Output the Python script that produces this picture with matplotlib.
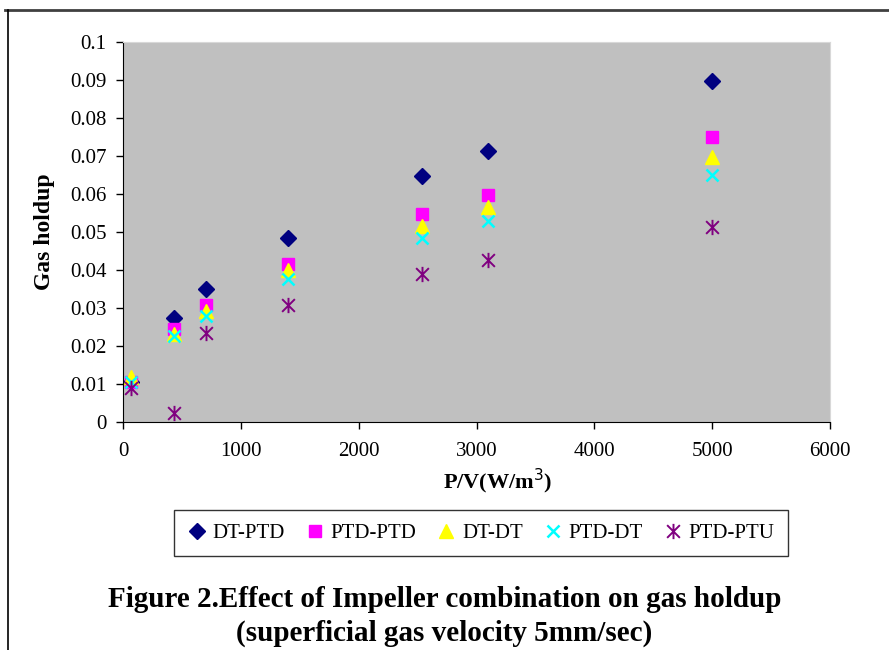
import matplotlib.pyplot as plt
from matplotlib.path import Path
from matplotlib.lines import Line2D

plt.rcParams['font.family'] = ['Liberation Serif', 'DejaVu Serif']

# Datos
pv = [70, 430, 700, 1400, 2540, 3100, 5000]
dt_ptd = [0.0105, 0.0272, 0.0348, 0.0483, 0.0646, 0.0711, 0.0897]
ptd_ptd = [0.0105, 0.0243, 0.0306, 0.0415, 0.0547, 0.0597, 0.0748]
dt_dt = [0.0118, 0.0231, 0.0290, 0.0399, 0.0515, 0.0564, 0.0696]
ptd_dt = [0.0105, 0.0224, 0.0278, 0.0375, 0.0483, 0.0529, 0.0650]
ptd_ptu = [0.0088, 0.0022, 0.0232, 0.0307, 0.0388, 0.0424, 0.0513]

x_ticks = [0, 1000, 2000, 3000, 4000, 5000, 6000]
y_ticks = [0, 0.01, 0.02, 0.03, 0.04, 0.05, 0.06, 0.07, 0.08, 0.09, 0.1]
y_labels = ['0', '0.01', '0.02', '0.03', '0.04', '0.05', '0.06', '0.07', '0.08', '0.09', '0.1']

# marcador tipo asterisco de Excel (x con barra vertical)
star = Path([(-1, -1), (1, 1), (-1, 1), (1, -1), (0, -1.2), (0, 1.2)],
            [Path.MOVETO, Path.LINETO, Path.MOVETO, Path.LINETO, Path.MOVETO, Path.LINETO])

fig = plt.figure(figsize=(8.89, 6.5), dpi=100)
ax = fig.add_axes([0.1384, 0.3515, 0.7953, 0.5846])
ax.set_facecolor('#c0c0c0')

ax.plot(pv, dt_ptd, linestyle='none', marker='D', markersize=8.5, color='#000080', label='DT-PTD')
ax.plot(pv, ptd_ptd, linestyle='none', marker='s', markersize=8.5, color='#ff00ff', label='PTD-PTD')
ax.plot(pv, dt_dt, linestyle='none', marker='^', markersize=9.5, color='#ffff00', label='DT-DT')
ax.plot(pv, ptd_dt, linestyle='none', marker='x', markersize=9, markeredgewidth=1.8,
        color='#00ffff', label='PTD-DT')
ax.plot(pv, ptd_ptu, linestyle='none', marker=star, markersize=11, markeredgewidth=1.4,
        markerfacecolor='none', color='#800080', label='PTD-PTU')

ax.set_xlim(0, 6000)
ax.set_ylim(0, 0.1)
ax.set_xticks(x_ticks)
ax.set_yticks(y_ticks)
ax.set_yticklabels(y_labels)
ax.tick_params(direction='out', length=5, width=1, labelsize=15)
ax.tick_params(axis='x', pad=10)
ax.tick_params(axis='y', pad=7)

for s in ['top', 'right']:
    ax.spines[s].set_color('#d8d8d8')
for s in ['left', 'bottom']:
    ax.spines[s].set_color('black')

ax.set_xlabel('P/V(W/m$^3$)', fontsize=16, fontweight='bold')
ax.xaxis.set_label_coords(0.53, -0.12)
ax.set_ylabel('Gas holdup', fontsize=17, fontweight='bold')
ax.yaxis.set_label_coords(-0.096, 0.5)

# Leyenda
leg = fig.legend(loc='center', bbox_to_anchor=(0.541, 0.18), ncol=5, fontsize=15,
                 frameon=True, fancybox=False, edgecolor='black', handlelength=0.9,
                 handletextpad=0.3, columnspacing=1.0, borderpad=0.65)
leg.get_frame().set_linewidth(1)

# Titulo
fig.text(0.5, 0.0515, 'Figure 2.Effect of Impeller combination on gas holdup\n'
         '(superficial gas velocity 5mm/sec)', ha='center', va='center',
         fontsize=21, fontweight='bold', linespacing=1.3)

# borde del area del grafico
fig.add_artist(Line2D([5 / 889, 1], [1 - 10 / 650, 1 - 10 / 650], color='#404040', lw=2))
fig.add_artist(Line2D([8 / 889, 8 / 889], [0, 1 - 10 / 650], color='black', lw=1.2))

fig.savefig('out.png', dpi=100)
